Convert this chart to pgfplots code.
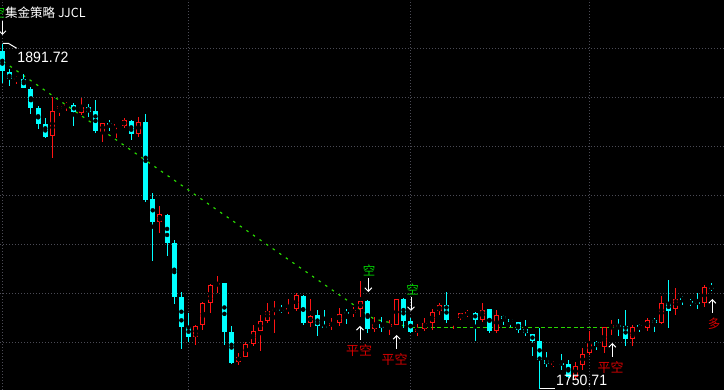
\documentclass[border=0pt]{standalone}
\usepackage{pgfplots}
\usepackage{pgfplotstable}
\pgfplotsset{compat=1.18}
\usepackage{fontspec}
\setmainfont{Liberation Sans}
\newfontfamily\cjk{Noto Sans CJK SC}
\usetikzlibrary{arrows.meta}
\definecolor{upc}{RGB}{255,20,20}
\definecolor{dnc}{RGB}{0,255,255}
\definecolor{gridc}{RGB}{75,75,85}
\definecolor{linec}{RGB}{40,215,0}
\definecolor{sigred}{RGB}{210,0,0}
\definecolor{siggreen}{RGB}{0,210,0}

\pgfplotstableread{
i o h l c
1 1888.8 1891.72 1875.6 1880.7
2 1880.1 1881.3 1874.6 1877.2
4 1877.5 1879.3 1873.5 1873.8
5 1873.3 1874.2 1863.2 1865.6
6 1865.4 1866.5 1856.9 1858.9
7 1858.9 1861.3 1853.1 1853.8
11 1866.7 1867.4 1858.3 1864.0
13 1866.0 1867.0 1862.0 1864.0
14 1864.3 1868.8 1855.4 1856.2
16 1859.2 1860.6 1856.1 1858.4
19 1860.3 1860.7 1852.6 1854.9
21 1859.9 1863.1 1827.3 1828.0
22 1828.4 1830.9 1803.2 1819.1
24 1821.8 1822.2 1805.2 1810.5
25 1810.5 1811.6 1785.5 1788.5
26 1788.5 1790.4 1767.3 1776.2
27 1776.2 1781.8 1769.9 1772.2
32 1794.0 1794.1 1768.9 1774.2
33 1774.1 1776.5 1761.2 1761.4
40 1783.2 1785.1 1781.7 1782.9
43 1788.8 1789.3 1777.1 1777.9
45 1781.0 1783.1 1772.4 1776.5
46 1776.5 1783.1 1775.9 1776.0
49 1782.0 1783.3 1777.3 1781.5
52 1786.7 1787.1 1773.5 1775.2
54 1777.3 1780.2 1774.2 1775.8
57 1787.4 1787.8 1775.6 1778.7
58 1778.6 1779.7 1773.5 1774.2
63 1785.1 1790.3 1777.9 1779.0
67 1782.0 1782.1 1770.4 1779.0
69 1783.5 1783.6 1773.8 1774.5
71 1780.7 1781.2 1777.1 1779.4
72 1779.4 1779.5 1776.0 1778.2
73 1778.2 1778.3 1773.5 1775.1
74 1775.3 1779.0 1772.4 1773.5
75 1773.2 1773.3 1764.3 1770.4
76 1770.4 1775.8 1750.71 1762.8
77 1762.6 1766.0 1759.7 1761.0
79 1761.5 1764.9 1758.6 1760.7
80 1761.0 1762.6 1755.4 1755.8
84 1770.0 1770.6 1766.9 1768.4
87 1776.9 1779.6 1772.3 1776.3
88 1776.5 1783.1 1768.5 1771.3
90 1776.6 1777.5 1774.1 1776.1
92 1779.1 1779.9 1774.2 1777.7
94 1785.9 1795.3 1775.9 1782.8
96 1788.1 1788.9 1785.1 1787.4
97 1786.4 1787.7 1784.6 1786.0
98 1786.4 1789.9 1783.5 1785.6
100 1792.4 1794.0 1790.8 1791.8
}\dn

\pgfplotstableread{
i o h l c
3 1877.3 1878.7 1875.3 1877.6
8 1854.0 1870.1 1845.0 1864.3
9 1865.0 1866.5 1862.4 1866.3
10 1866.5 1868.1 1864.3 1867.0
12 1863.6 1869.5 1862.6 1865.9
15 1855.8 1859.4 1851.8 1859.3
17 1858.2 1858.9 1853.1 1858.6
18 1858.3 1861.3 1857.2 1860.6
20 1854.9 1861.8 1853.8 1859.7
23 1819.1 1825.5 1814.6 1822.2
28 1772.2 1777.0 1768.9 1776.6
29 1777.1 1786.3 1774.9 1785.9
30 1786.0 1793.7 1782.0 1793.3
31 1793.3 1796.9 1790.1 1794.1
34 1762.0 1765.6 1760.6 1763.9
35 1764.0 1770.2 1763.7 1769.1
36 1769.3 1776.9 1768.4 1774.5
37 1774.6 1781.0 1766.3 1778.6
38 1778.6 1786.0 1777.6 1782.6
39 1782.8 1786.7 1773.5 1783.4
41 1783.1 1787.5 1781.4 1783.5
42 1783.3 1789.9 1782.5 1789.2
44 1777.9 1787.5 1776.2 1780.6
47 1776.5 1779.9 1774.9 1777.9
48 1777.9 1784.0 1776.5 1781.5
50 1781.7 1784.4 1780.3 1783.1
51 1783.3 1794.9 1780.1 1786.7
53 1775.5 1780.1 1774.2 1777.3
55 1776.0 1778.8 1772.9 1777.3
56 1777.1 1787.6 1776.8 1787.4
59 1774.2 1777.3 1772.6 1775.2
60 1775.3 1779.7 1774.3 1777.6
61 1777.9 1783.3 1775.0 1782.1
62 1782.8 1785.9 1781.0 1785.1
64 1779.0 1779.7 1775.4 1779.4
65 1779.7 1782.0 1779.0 1781.7
66 1781.3 1783.1 1780.3 1782.0
68 1779.0 1785.8 1778.3 1783.1
70 1774.5 1783.1 1773.5 1781.0
78 1760.9 1762.4 1759.7 1761.3
81 1755.7 1761.8 1754.5 1760.4
82 1760.7 1767.4 1758.6 1765.1
83 1765.6 1774.5 1764.7 1769.6
85 1768.1 1776.1 1765.6 1776.0
86 1776.3 1779.0 1772.9 1776.7
89 1771.1 1776.9 1768.5 1776.1
91 1775.9 1779.8 1774.7 1779.0
93 1777.7 1788.8 1777.3 1785.9
95 1783.3 1792.0 1781.2 1787.5
99 1785.8 1793.3 1784.4 1792.3
}\up

\begin{document}
\begin{tikzpicture}
\begin{axis}[
  at={(0,0)}, anchor=south west,
  width=724pt, height=390pt, scale only axis,
  xmin=0.68, xmax=101.74, ymin=1750.41, ymax=1909.59,
  axis background/.style={fill=black},
  axis line style={draw=none},
  tick style={draw=none},
  major tick length=0pt,
  xtick={1,27,58,83}, ytick={1770,1790,...,1890},
  xticklabels={}, yticklabels={},
  xmajorgrids, ymajorgrids,
  grid style={gridc, line width=0.8pt, dash pattern=on 1pt off 2pt},
]
% indicator lines
\addplot[linec, line width=1.2pt, dash pattern=on 2.5pt off 5.5pt] coordinates {(1.14,1884.5) (52.88,1779.4) (58.05,1776.0)};
\addplot[linec, line width=1.1pt, dash pattern=on 4pt off 2.5pt] coordinates {(58.05,1776.0) (86.3,1776.0)};
% wicks
\addplot[only marks, mark=none, error bars/.cd, y dir=both, y explicit, error mark=none,
  error bar style={draw=dnc, line width=1pt}]
  table[x=i, y expr={(\thisrow{h}+\thisrow{l})/2}, y error expr={(\thisrow{h}-\thisrow{l})/2}] {\dn};
\addplot[only marks, mark=none, error bars/.cd, y dir=both, y explicit, error mark=none,
  error bar style={draw=upc, line width=1pt}]
  table[x=i, y expr={(\thisrow{h}+\thisrow{l})/2}, y error expr={(\thisrow{h}-\thisrow{l})/2}] {\up};
% bodies
\addplot[only marks, mark=none, error bars/.cd, y dir=both, y explicit, error mark=none,
  error bar style={draw=dnc, line width=5pt}]
  table[x=i, y expr={(\thisrow{o}+\thisrow{c})/2}, y error expr={max(abs(\thisrow{o}-\thisrow{c})/2,0.4)}] {\dn};
\addplot[only marks, mark=none, error bars/.cd, y dir=both, y explicit, error mark=none,
  error bar style={draw=upc, line width=5pt}]
  table[x=i, y expr={(\thisrow{o}+\thisrow{c})/2}, y error expr={max(abs(\thisrow{o}-\thisrow{c})/2,0.4)}] {\up};
\addplot[only marks, mark=none, error bars/.cd, y dir=both, y explicit, error mark=none,
  error bar style={draw=black, line width=3pt}]
  table[x=i, y expr={(\thisrow{o}+\thisrow{c})/2}, y error expr={max(abs(\thisrow{o}-\thisrow{c})/2-0.41,0)}] {\up};
\end{axis}
% annotations (pixel-based positions over the axis box)
\tikzset{sarr/.style={white, line width=1pt, -{Straight Barb[length=3.5pt,width=7pt]}}}
\node[anchor=west, inner sep=0pt, text=white] at (5pt,377.5pt) {\cjk\fontsize{12.5}{12.5}\selectfont 集金策略 JJCL};
\node[inner sep=0pt, text=siggreen] at (-1pt,377.5pt) {\cjk\fontsize{12.5}{12.5}\selectfont 空};
\draw[sarr] (2.5pt,369.3pt) -- (2.5pt,355pt);
\draw[white, line width=1pt] (2.7pt,346.7pt) -- (8.3pt,346.7pt) -- (16.7pt,341.7pt);
\node[anchor=west, inner sep=0pt, text=white, xscale=0.94] at (17.3pt,332.5pt) {\fontsize{15}{15}\selectfont 1891.72};
\draw[white, line width=1pt] (540pt,1.3pt) -- (555pt,1.3pt);
\node[anchor=west, inner sep=0pt, text=white, xscale=0.94] at (556pt,10pt) {\fontsize{15}{15}\selectfont 1750.71};
\node[inner sep=0pt, text=siggreen] at (369pt,119pt) {\cjk\fontsize{12.5}{12.5}\selectfont 空};
\draw[sarr] (368.3pt,112pt) -- (368.3pt,98pt);
\node[inner sep=0pt, text=siggreen] at (412.5pt,100.5pt) {\cjk\fontsize{12.5}{12.5}\selectfont 空};
\draw[sarr] (411pt,93.3pt) -- (411pt,79pt);
\draw[sarr] (360pt,50pt) -- (360pt,64pt);
\node[inner sep=0pt, text=sigred] at (359pt,39pt) {\cjk\fontsize{13}{13}\selectfont 平空};
\draw[sarr] (396.7pt,41pt) -- (396.7pt,55pt);
\node[inner sep=0pt, text=sigred] at (394.5pt,30pt) {\cjk\fontsize{13}{13}\selectfont 平空};
\draw[sarr] (612.3pt,33pt) -- (612.3pt,47pt);
\node[inner sep=0pt, text=sigred] at (610.5pt,22pt) {\cjk\fontsize{13}{13}\selectfont 平空};
\draw[sarr] (712.3pt,77pt) -- (712.3pt,91pt);
\node[inner sep=0pt, text=sigred] at (714pt,66pt) {\cjk\fontsize{12.5}{12.5}\selectfont 多};
\pgfresetboundingbox
\path[use as bounding box] (0pt,0pt) rectangle (724pt,390pt);
\end{tikzpicture}
\end{document}
